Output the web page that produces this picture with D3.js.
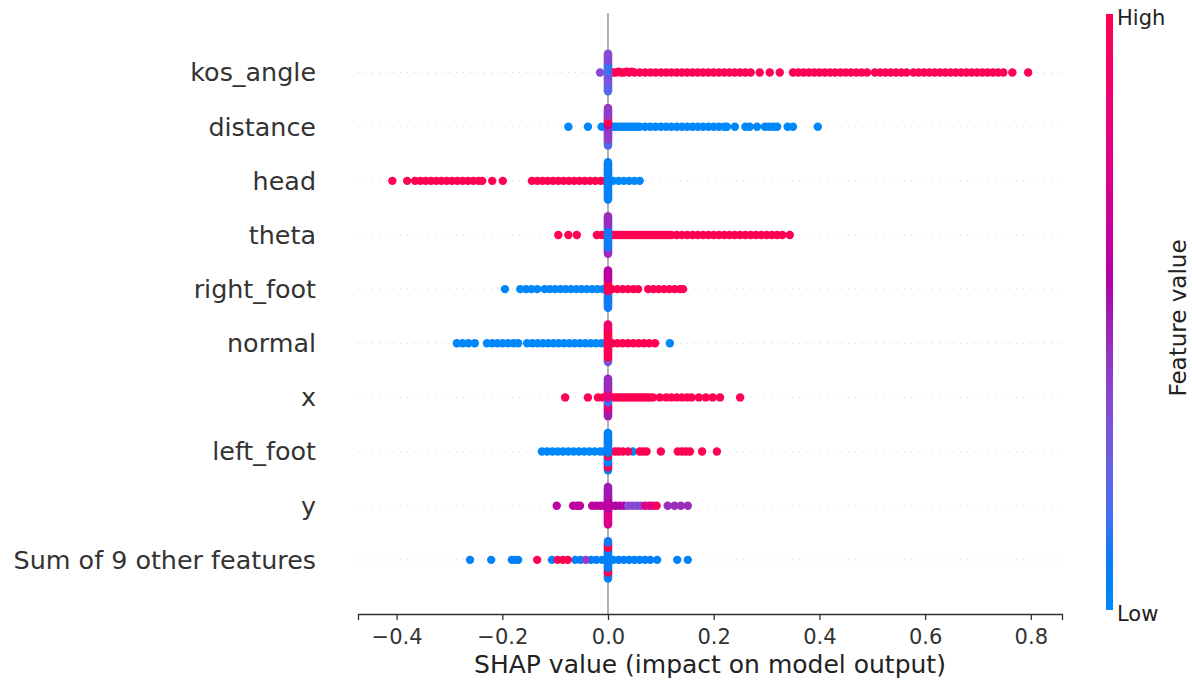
<!DOCTYPE html>
<html>
<head>
<meta charset="utf-8">
<script src="https://cdn.jsdelivr.net/npm/d3@7"></script>
<style>
  body { margin: 0; background: #fff; }
  text { font-family: "DejaVu Sans", sans-serif; }
</style>
</head>
<body>
<div id="chart"></div>
<script>
// feature names, top to bottom
var features = ["kos_angle", "distance", "head", "theta", "right_foot", "normal", "x", "left_foot", "y", "Sum of 9 other features"];
var xTicks = [-0.4, -0.2, 0.0, 0.2, 0.4, 0.6, 0.8];

// groups of [feature value (0 = low, 1 = high), [shap values]]
var kosAngle = [
  [0.35, [-0.015]],
  [1, [0.01,0.015,0.02,0.025,0.03,0.035,0.04,0.045,0.05,0.06,0.07,0.08,0.09,0.10,0.11,0.12,0.13,0.14,0.15,0.16,0.17,0.18,0.19,0.20,0.21,0.22,0.23,0.24,0.25,0.26,0.27,
       0.287,0.306,0.325,
       0.35,0.36,0.37,0.38,0.39,0.40,0.41,0.42,0.43,0.44,0.45,0.46,0.47,0.48,0.49,0.505,
       0.515,0.525,0.535,0.545,0.555,0.565,
       0.578,0.588,0.598,0.608,0.618,0.628,0.638,0.648,0.658,0.668,0.678,0.688,0.698,0.708,0.718,0.728,0.738,0.748,
       0.765,0.795]]
];
var distance = [
  [0, [-0.075,-0.038,-0.012,
       0.01,0.015,0.02,0.025,0.03,0.035,0.04,0.045,0.05,0.055,0.06,0.07,0.08,0.09,0.10,0.11,0.12,0.13,0.14,0.15,0.16,0.17,0.18,0.19,0.20,0.21,0.22,0.225,
       0.24,0.26,0.268,0.282,0.297,0.305,0.313,0.32,0.34,0.35,0.397]]
];
var head = [
  [1, [-0.408,-0.38,-0.365,-0.355,-0.345,-0.335,-0.325,-0.315,-0.305,-0.295,-0.285,-0.275,-0.265,-0.255,-0.245,-0.238,-0.219,-0.199,
       -0.144,-0.134,-0.124,-0.114,-0.104,-0.094,-0.084,-0.074,-0.064,-0.054,-0.044,-0.034,-0.024,-0.014,-0.006]],
  [0, [0.01,0.02,0.03,0.04,0.05,0.06]]
];
var theta = [
  [1, [-0.094,-0.075,-0.059,-0.021,-0.012,-0.005,
       0.01,0.015,0.02,0.025,0.03,0.035,0.04,0.045,0.05,0.055,0.06,0.065,0.07,0.075,0.08,0.085,0.09,0.095,0.10,0.105,0.11,0.115,0.12,
       0.13,0.14,0.15,0.16,0.17,0.18,0.19,0.20,0.21,0.22,0.23,0.24,0.25,0.26,0.27,0.28,0.29,0.30,0.31,0.32,0.33,0.344]]
];
var rightFoot = [
  [0, [-0.195,-0.166,-0.155,-0.145,-0.134,-0.12,-0.11,-0.10,-0.09,-0.08,-0.07,-0.06,-0.05,-0.04,-0.03,-0.02,-0.01,-0.005]],
  [1, [0.008,0.018,0.028,0.038,0.048,0.057,0.076,0.086,0.096,0.106,0.116,0.126,0.136,0.142]]
];
var normal = [
  [0, [-0.286,-0.275,-0.264,-0.252,-0.229,-0.219,-0.209,-0.199,-0.189,-0.179,-0.17,
       -0.153,-0.143,-0.133,-0.123,-0.113,-0.103,-0.093,-0.083,-0.073,-0.063,-0.053,-0.043,-0.033,-0.023,-0.013,-0.005, 0.117]],
  [1, [0.008,0.018,0.028,0.038,0.048,0.058,0.068,0.078,0.089]]
];
var xFeat = [
  [1, [-0.081,-0.038,-0.019,-0.01,
       0.01,0.015,0.02,0.025,0.03,0.035,0.04,0.045,0.05,0.055,0.06,0.065,0.07,0.075,0.08,0.085,
       0.098,0.11,0.12,0.13,0.14,0.15,0.158,0.172,0.185,0.198,0.212,0.25]]
];
var leftFoot = [
  [0, [-0.125,-0.115,-0.105,-0.095,-0.085,-0.075,-0.065,-0.055,-0.045,-0.035,-0.025,-0.015,-0.008, 0.047]],
  [1, [0.013,0.02,0.028,0.038,0.06,0.067,0.073,0.1,0.132,0.14,0.148,0.155,0.178,0.206]]
];
var yFeat = [
  [0.6, [-0.097,-0.066,-0.058,-0.053,-0.03,-0.022,-0.015,-0.008,-0.002]],
  [0.55, [0.006,0.014,0.022,0.03]],
  [0.35, [0.038,0.046,0.054,0.062]],
  [0.75, [0.07,0.078,0.085]],
  [0.95, [0.092]],
  [0.45, [0.113,0.126,0.138,0.151]]
];
var sumOther = [
  [0.05, [-0.261,-0.221,-0.182,-0.176,-0.17,-0.106,-0.062,-0.052,-0.032,-0.022,-0.011,
          0.01,0.02,0.03,0.04,0.05,0.06,0.07,0.08,0.093,0.131,0.151]],
  [0.4, [-0.042]],
  [1, [-0.134,-0.095,-0.085,-0.076]]
];
var rowPoints = [kosAngle, distance, head, theta, rightFoot, normal, xFeat, leftFoot, yFeat, sumOther];

// dense column at zero: [feature value, count], bottom to top
var rowStacks = [
  [[0.2, 12], [0.3, 14], [0.15, 14], [0.35, 10]],
  [[0.2, 8], [0.4, 18], [0.6, 4], [1, 8], [0.4, 12]],
  [[0.05, 50]],
  [[0.45, 8], [0.1, 30], [0.45, 12]],
  [[0.1, 22], [1, 16], [0.6, 12]],
  [[0.3, 6], [1, 38], [0.9, 6]],
  [[0.5, 10], [0.8, 8], [0.15, 6], [0.8, 12], [0.45, 14]],
  [[0.05, 4], [1, 6], [0.05, 8], [1, 5], [0.05, 27]],
  [[0.75, 20], [0.6, 16], [0.5, 14]],
  [[0.05, 8], [1, 6], [0.05, 26], [1, 7], [0.1, 3]]
];

var width = 1192, height = 686;
var svg = d3.select("#chart").append("svg")
  .attr("width", width)
  .attr("height", height);

var x = d3.scaleLinear().domain([-0.473, 0.859]).range([358, 1062]);
var y = d3.scaleLinear().domain([-1, 10.1]).range([614, 13]);
var rowStep = y(0) - y(1);

// shap red_blue colormap (lch blue -> darker mid -> red)
function redBlue(t) {
  var l = t < 0.5 ? 54 - 14 * (t / 0.5) : 40 + 14 * ((t - 0.5) / 0.5);
  var c = 70 + 20 * t;
  var h = (4.6588 + t * (0.35470565 + 2 * Math.PI - 4.6588)) * 180 / Math.PI;
  return d3.hcl(h, c, l).formatHex();
}

// zero line
svg.append("line")
  .attr("x1", x(0)).attr("x2", x(0))
  .attr("y1", 13).attr("y2", 614)
  .attr("stroke", "#999").attr("stroke-width", 1.5);

var r = 4.2;

features.forEach(function(name, i) {
  var pos = features.length - 1 - i;
  var cy = y(pos);

  svg.append("line")
    .attr("x1", 358).attr("x2", 1062)
    .attr("y1", cy).attr("y2", cy)
    .attr("stroke", "#ccc").attr("stroke-width", 0.8)
    .attr("stroke-dasharray", "1,6");

  var stack = rowStacks[i];
  var nStack = d3.sum(stack, function(d) { return d[1]; });
  var half = Math.ceil(nStack / 2);
  var layerPx = 0.9 * 0.4 * rowStep / (half + 1);

  var pts = [];
  rowPoints[i].forEach(function(g) {
    g[1].forEach(function(v) { pts.push({v: v, fv: g[0]}); });
  });
  var ext = d3.extent(pts, function(d) { return d.v; });
  var layers = new Map();
  pts.forEach(function(p) {
    var b = Math.round(100 * (p.v - ext[0]) / (ext[1] - ext[0] + 1e-8));
    var k = layers.get(b) || 0;
    p.off = Math.ceil(k / 2) * ((k % 2) * 2 - 1) * layerPx;
    layers.set(b, k + 1);
  });

  var g = svg.append("g");
  g.selectAll("circle.pt")
    .data(pts).enter().append("circle")
    .attr("class", "pt")
    .attr("cx", function(d) { return x(d.v); })
    .attr("cy", function(d) { return cy - d.off; })
    .attr("r", r)
    .attr("fill", function(d) { return redBlue(d.fv); });

  var col = [];
  stack.forEach(function(s) {
    for (var k = 0; k < s[1]; k++) col.push(s[0]);
  });
  var span = half * layerPx;
  g.selectAll("circle.st")
    .data(col).enter().append("circle")
    .attr("class", "st")
    .attr("cx", x(0))
    .attr("cy", function(d, j) { return cy + span - j * (2 * span / (col.length - 1)); })
    .attr("r", r)
    .attr("fill", function(d) { return redBlue(d); });

  svg.append("text")
    .attr("x", 316).attr("y", cy)
    .attr("dy", "0.35em")
    .attr("text-anchor", "end")
    .attr("fill", "#333")
    .style("font-size", "25.4px")
    .text(name);
});

// x axis
var axis = svg.append("g")
  .attr("transform", "translate(0,614)")
  .call(d3.axisBottom(x).tickValues(xTicks).tickSizeOuter(0).tickSize(6).tickPadding(9)
    .tickFormat(d3.format(".1f")));
axis.select(".domain").attr("stroke", "#333").attr("stroke-width", 1.3);
axis.selectAll(".tick line").attr("stroke", "#333").attr("stroke-width", 1.3);
axis.selectAll(".tick text")
  .attr("fill", "#333")
  .style("font-size", "21px")
  .style("font-family", "DejaVu Sans");

svg.append("text")
  .attr("x", 710).attr("y", 673)
  .attr("text-anchor", "middle")
  .attr("fill", "#222")
  .style("font-size", "25px")
  .text("SHAP value (impact on model output)");

// colorbar
var grad = svg.append("defs").append("linearGradient")
  .attr("id", "cbar").attr("x1", 0).attr("y1", 1).attr("x2", 0).attr("y2", 0);
d3.range(0, 1.0001, 0.05).forEach(function(t) {
  grad.append("stop").attr("offset", t).attr("stop-color", redBlue(t));
});
svg.append("rect")
  .attr("x", 1106).attr("y", 14)
  .attr("width", 7).attr("height", 596)
  .attr("fill", "url(#cbar)");

svg.append("text")
  .attr("x", 1117).attr("y", 18).attr("dy", "0.35em")
  .attr("fill", "#222").style("font-size", "21px")
  .text("High");
svg.append("text")
  .attr("x", 1117).attr("y", 614).attr("dy", "0.35em")
  .attr("fill", "#222").style("font-size", "21px")
  .text("Low");
svg.append("text")
  .attr("transform", "translate(1178,318) rotate(-90)")
  .attr("text-anchor", "middle").attr("dy", "0.35em")
  .attr("fill", "#222").style("font-size", "23px")
  .text("Feature value");
</script>
</body>
</html>
